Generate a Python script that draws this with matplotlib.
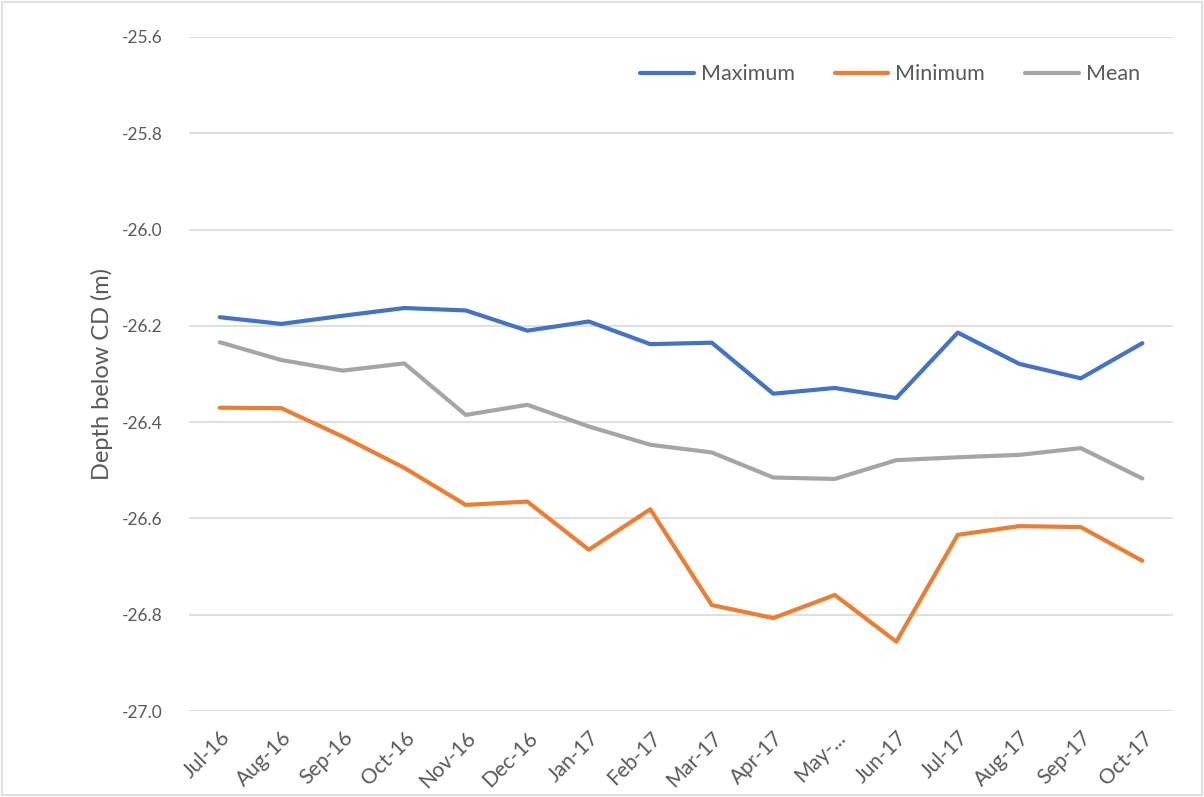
import matplotlib
matplotlib.use("Agg")
import matplotlib.pyplot as plt
from matplotlib.patches import Rectangle

months = ["Jul-16", "Aug-16", "Sep-16", "Oct-16", "Nov-16", "Dec-16", "Jan-17", "Feb-17",
          "Mar-17", "Apr-17", "May-...", "Jun-17", "Jul-17", "Aug-17", "Sep-17", "Oct-17"]

maximum = [-26.182, -26.196, -26.179, -26.163, -26.168, -26.210, -26.191, -26.238,
           -26.235, -26.341, -26.329, -26.350, -26.214, -26.279, -26.309, -26.236]
minimum = [-26.370, -26.371, -26.430, -26.495, -26.572, -26.565, -26.665, -26.581,
           -26.780, -26.807, -26.759, -26.856, -26.634, -26.616, -26.618, -26.688]
mean = [-26.234, -26.271, -26.293, -26.278, -26.385, -26.364, -26.409, -26.447,
        -26.463, -26.515, -26.518, -26.479, -26.473, -26.468, -26.454, -26.517]

y_ticks = [-27.0, -26.8, -26.6, -26.4, -26.2, -26.0, -25.8, -25.6]

plt.rcParams["font.family"] = ["Lato", "DejaVu Sans"]
text_color = "#595959"

fig = plt.figure(figsize=(12.04, 7.97), dpi=100)
fig.patches.append(Rectangle((0.002, 0.002), 0.996, 0.996, transform=fig.transFigure,
                             fill=False, edgecolor="#d9d9d9", linewidth=1.2))
ax = fig.add_axes([0.157, 0.1079, 0.8173, 0.8457])

x = list(range(len(months)))
ax.plot(x, maximum, color="#4472C4", lw=3, label="Maximum", solid_capstyle="round", zorder=3)
ax.plot(x, minimum, color="#ED7D31", lw=3, label="Minimum", solid_capstyle="round", zorder=3)
ax.plot(x, mean, color="#A5A5A5", lw=3, label="Mean", solid_capstyle="round", zorder=3)

ax.set_ylim(-27.0, -25.6)
ax.set_yticks(y_ticks)
ax.set_yticklabels([f"{v:.1f}" for v in y_ticks])
ax.set_xlim(-0.5, len(months) - 0.5)
ax.set_xticks(x)
ax.set_xticklabels(months, rotation=45, ha="right", rotation_mode="anchor")

ax.grid(axis="y", color="#d9d9d9", linewidth=1.2)
ax.set_axisbelow(True)
for s in ax.spines.values():
    s.set_visible(False)
ax.tick_params(axis="both", length=0, colors=text_color)
ax.tick_params(axis="y", pad=19, labelsize=12.5)
ax.tick_params(axis="x", pad=12, labelsize=15)

ax.set_ylabel("Depth below CD (m)", color=text_color, fontsize=17, labelpad=6)

ax.legend(loc="center right", bbox_to_anchor=(0.9665, 0.945), ncol=3, frameon=False,
          fontsize=15.5, handlelength=2.5, handletextpad=0.33, columnspacing=1.85,
          borderpad=0, borderaxespad=0, labelcolor=text_color)

fig.savefig("out.png", dpi=100, facecolor="white")
